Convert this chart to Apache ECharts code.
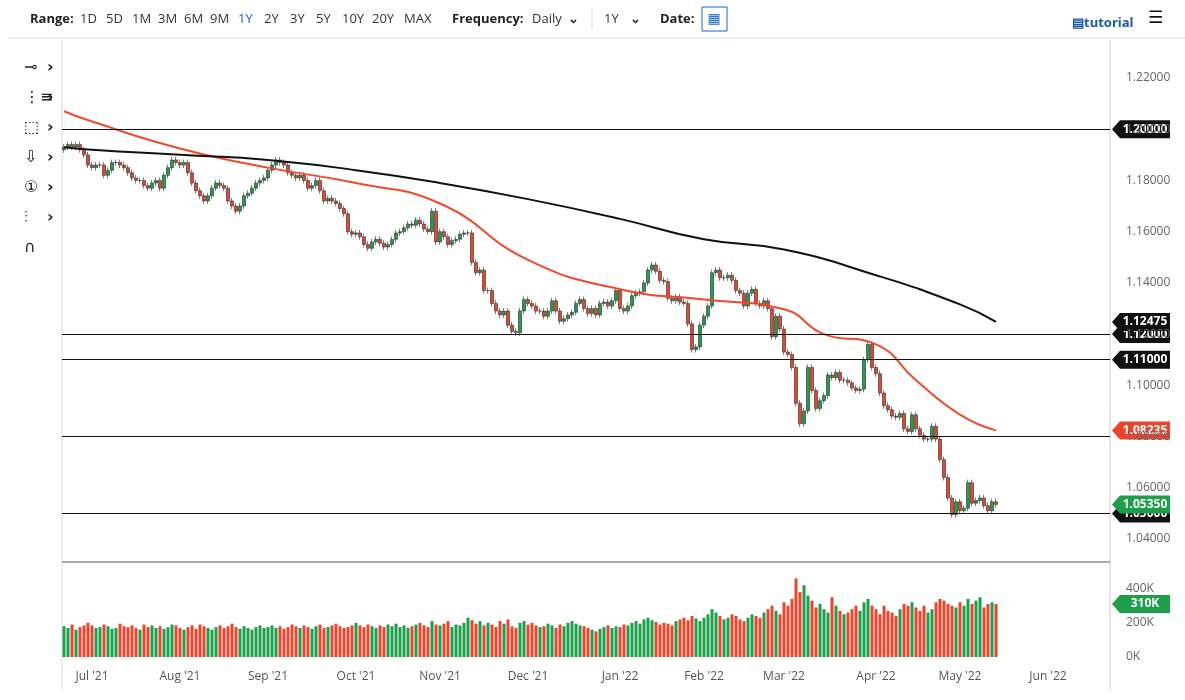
<!DOCTYPE html>
<html>
<head>
<meta charset="utf-8">
<script src="https://cdn.jsdelivr.net/npm/echarts@6/dist/echarts.min.js"></script>
<style>
  html, body { margin: 0; padding: 0; background: #fff; }
  #chart { width: 1185px; height: 700px; }
</style>
</head>
<body>
<div id="chart"></div>
<script>
// daily closes, 22 Jun 2021 -> 13 May 2022
var closes = [
  1.1930,1.1940,1.1930,1.1940,1.1920,1.1900,1.1860,
  1.1850,1.1860,1.1860,1.1820,1.1840,1.1870,1.1870,1.1860,1.1850,1.1830,1.1810,1.1800,1.1800,1.1780,1.1770,1.1790,1.1800,1.1770,1.1820,1.1850,1.1880,1.1870,
  1.1860,1.1870,1.1830,1.1790,1.1760,1.1740,1.1720,1.1740,1.1770,1.1790,1.1780,1.1770,1.1720,1.1700,1.1680,1.1700,1.1740,1.1750,1.1770,1.1790,1.1800,1.1810,
  1.1840,1.1860,1.1880,1.1870,1.1860,1.1830,1.1820,1.1810,1.1820,1.1800,1.1770,1.1780,1.1800,1.1760,1.1720,1.1730,1.1720,1.1710,1.1690,1.1670,1.1600,1.1590,
  1.1595,1.1580,1.1550,1.1535,1.1560,1.1570,1.1555,1.1540,1.1550,1.1570,1.1595,1.1600,1.1615,1.1630,1.1625,1.1645,1.1630,1.1610,1.1600,1.1680,1.1560,
  1.1600,1.1580,1.1550,1.1565,1.1570,1.1590,1.1595,1.1595,1.1480,1.1440,1.1450,1.1370,1.1370,1.1320,1.1290,1.1275,1.1290,1.1235,1.1210,1.1205,1.1290,1.1335,
  1.1320,1.1310,1.1290,1.1290,1.1270,1.1290,1.1330,1.1290,1.1250,1.1260,1.1275,1.1285,1.1320,1.1335,1.1300,1.1280,1.1300,1.1275,1.1320,1.1325,1.1310,1.1330,1.1370,
  1.1300,1.1290,1.1310,1.1350,1.1360,1.1365,1.1400,1.1450,1.1470,1.1445,1.1410,1.1405,1.1340,1.1330,1.1345,1.1325,1.1320,1.1240,1.1140,1.1150,1.1235,
  1.1270,1.1310,1.1440,1.1450,1.1420,1.1420,1.1430,1.1410,1.1370,1.1360,1.1310,1.1360,1.1375,1.1320,1.1310,1.1330,1.1300,1.1190,1.1270,1.1220,
  1.1130,1.1120,1.1070,1.0930,1.0850,1.0900,1.1070,1.0980,1.0910,1.0940,1.0960,1.1040,1.1030,1.1050,1.1020,1.1020,1.1010,1.0990,1.0980,1.0985,1.1100,1.1160,1.1070,
  1.1045,1.0970,1.0920,1.0905,1.0880,1.0875,1.0890,1.0830,1.0820,1.0885,1.0830,1.0805,1.0790,1.0790,1.0840,1.0790,1.0710,1.0640,1.0560,1.0495,1.0545,
  1.0510,1.0520,1.0620,1.0540,1.0550,1.0560,1.0530,1.0510,1.0545,1.0535
];
// volume in thousands
var volumes = [
  180,170,190,160,175,185,200,
  185,170,175,190,180,165,170,195,180,175,185,170,160,190,175,185,170,180,165,175,190,185,
  170,160,175,185,165,190,180,170,160,175,185,170,180,195,175,165,180,170,160,175,185,170,
  175,185,170,180,165,175,190,180,170,185,175,165,180,190,170,175,185,195,180,170,175,185,
  200,185,175,190,180,170,185,175,190,180,195,175,185,170,180,190,200,185,175,210,190,
  185,195,210,175,190,185,200,230,215,195,210,185,200,190,175,210,195,220,180,170,200,210,
  190,200,185,175,180,195,185,170,190,180,200,210,195,185,180,170,160,150,165,175,185,170,180,
  175,190,185,200,210,195,220,230,215,205,190,200,195,185,210,220,230,215,240,225,210,
  230,250,280,260,240,220,230,250,240,220,210,230,250,240,230,260,280,300,270,250,
  320,300,340,460,380,420,360,330,290,310,280,260,350,300,270,250,260,280,300,270,320,340,300,
  280,250,300,270,260,240,280,310,300,320,290,270,300,260,280,320,340,330,310,300,290,
  320,300,340,310,330,350,290,310,320,310
];
// moving averages read at month points
var ma50 = [
  ['2021-06-22',1.2070],['2021-07-01',1.2030],['2021-08-02',1.1925],['2021-09-01',1.1850],
  ['2021-10-01',1.1790],['2021-11-01',1.1710],['2021-12-01',1.1490],['2022-01-03',1.1375],
  ['2022-02-01',1.1335],['2022-03-01',1.1297],['2022-03-15',1.1200],['2022-04-01',1.1160],
  ['2022-04-15',1.1020],['2022-05-02',1.0886],['2022-05-13',1.0824]
];
var ma200 = [
  ['2021-06-22',1.1930],['2021-07-01',1.1920],['2021-08-02',1.1900],['2021-09-01',1.1880],
  ['2021-10-01',1.1840],['2021-11-01',1.1790],['2021-12-01',1.1727],['2022-01-03',1.1650],
  ['2022-02-01',1.1570],['2022-03-01',1.1530],['2022-04-01',1.1430],['2022-05-02',1.1316],
  ['2022-05-13',1.1248]
];
var levels = [1.20, 1.12, 1.11, 1.08, 1.05];

var GREEN = '#1e9e4a', RED = '#e8452c';
var N_SLOTS = 262;

// trading days (plus empty future slots)
var dates = [];
var d = new Date(Date.UTC(2021, 5, 22));
while (dates.length < N_SLOTS) {
  var wd = d.getUTCDay();
  if (wd !== 0 && wd !== 6) dates.push(d.toISOString().slice(0, 10));
  d.setUTCDate(d.getUTCDate() + 1);
}

var candles = [], vols = [];
for (var i = 0; i < closes.length; i++) {
  var o = i === 0 ? 1.1920 : closes[i - 1];
  var c = closes[i];
  candles.push([o, c, Math.min(o, c) - 0.0012, Math.max(o, c) + 0.0012]);
  vols.push({ value: volumes[i] * 1000, itemStyle: { color: c >= o ? GREEN : RED } });
}

function sparse(pts) {
  var arr = dates.map(function () { return null; });
  pts.forEach(function (p) { var k = dates.indexOf(p[0]); if (k >= 0) arr[k] = p[1]; });
  return arr;
}

var MONTHS = ['Jan', 'Feb', 'Mar', 'Apr', 'May', 'Jun', 'Jul', 'Aug', 'Sep', 'Oct', 'Nov', 'Dec'];
function firstOfMonth(idx) {
  return idx > 0 && dates[idx].slice(5, 7) !== dates[idx - 1].slice(5, 7);
}

var chart = echarts.init(document.getElementById('chart'));
var option = {
  animation: false,
  backgroundColor: '#fff',
  textStyle: { fontFamily: 'Open Sans' },
  grid: [
    { left: 62, right: 75, top: 78, height: 461 },
    { left: 62, right: 75, top: 575, height: 82 }
  ],
  xAxis: [
    { type: 'category', gridIndex: 0, data: dates, axisLine: { show: false },
      axisTick: { show: false }, axisLabel: { show: false }, splitLine: { show: false } },
    { type: 'category', gridIndex: 1, data: dates, axisLine: { show: false },
      axisTick: { show: false }, splitLine: { show: false },
      axisLabel: { color: '#555', fontSize: 12, margin: 14,
        interval: function (idx) { return firstOfMonth(idx); },
        formatter: function (v) { return MONTHS[+v.slice(5, 7) - 1] + " '" + v.slice(2, 4); } } }
  ],
  yAxis: [
    { type: 'value', gridIndex: 0, position: 'right', min: 1.04, max: 1.22, interval: 0.02,
      axisLine: { show: false }, axisTick: { show: false }, splitLine: { show: false },
      axisLabel: { color: '#666', fontSize: 12, margin: 16, formatter: function (v) { return v.toFixed(5); } } },
    { type: 'value', gridIndex: 1, position: 'right', min: 0, max: 480000, interval: 200000,
      axisLine: { show: false }, axisTick: { show: false }, splitLine: { show: false },
      axisLabel: { color: '#666', fontSize: 12, margin: 16, showMaxLabel: false,
        formatter: function (v) { return v / 1000 + 'K'; } } }
  ],
  series: [
    { type: 'candlestick', xAxisIndex: 0, yAxisIndex: 0, data: candles, barWidth: 3,
      itemStyle: { color: GREEN, color0: RED, borderColor: '#2b2b2b', borderColor0: '#2b2b2b', borderWidth: 0.6 },
      markLine: { symbol: 'none', silent: true, label: { show: false },
        lineStyle: { color: '#111', width: 1, type: 'solid' },
        data: levels.map(function (v) { return { yAxis: v }; }) } },
    { type: 'line', xAxisIndex: 0, yAxisIndex: 0, data: sparse(ma50), connectNulls: true, smooth: true,
      showSymbol: false, lineStyle: { color: '#f2492a', width: 2 } },
    { type: 'line', xAxisIndex: 0, yAxisIndex: 0, data: sparse(ma200), connectNulls: true, smooth: true,
      showSymbol: false, lineStyle: { color: '#111', width: 2 } },
    { type: 'bar', xAxisIndex: 1, yAxisIndex: 1, data: vols, barWidth: 3 }
  ]
};
chart.setOption(option);

// right side value tags
var tags = [
  [1.20, '1.20000', '#111', 0], [1.12, '1.12000', '#111', 0], [1.12475, '1.12475', '#111', 0],
  [1.11, '1.11000', '#111', 0], [1.08235, '1.08235', RED, 0], [1.05, '1.05000', '#111', 0],
  [1.0535, '1.05350', GREEN, 0], [310000, '310K', GREEN, 1]
];
var g = [];
tags.forEach(function (t) {
  var y = chart.convertToPixel({ yAxisIndex: t[3] }, t[0]);
  g.push({ type: 'polygon', shape: { points: [[1112, y], [1120, y - 9], [1170, y - 9], [1170, y + 9], [1120, y + 9]] },
    style: { fill: t[2] } });
  g.push({ type: 'text', x: 1145, y: y, style: { text: t[1], fill: '#fff', font: 'bold 12px Open Sans',
    align: 'center', verticalAlign: 'middle' } });
});
// frame lines
g.push({ type: 'line', shape: { x1: 1110, y1: 40, x2: 1110, y2: 690 }, style: { stroke: '#ccc' } });
g.push({ type: 'line', shape: { x1: 62, y1: 40, x2: 62, y2: 690 }, style: { stroke: '#ddd' } });
g.push({ type: 'line', shape: { x1: 62, y1: 562, x2: 1110, y2: 562 }, style: { stroke: '#aaa', lineWidth: 2 } });
g.push({ type: 'line', shape: { x1: 8, y1: 38, x2: 1185, y2: 38 }, style: { stroke: '#ddd' } });
// toolbar
var tb = [['Range:', 30, true, '#222'], ['1D', 80], ['5D', 106], ['1M', 132], ['3M', 158], ['6M', 184], ['9M', 210],
  ['1Y', 238, false, '#1a66c9'], ['2Y', 264], ['3Y', 290], ['5Y', 316], ['10Y', 342], ['20Y', 372], ['MAX', 404],
  ['Frequency:', 452, true, '#222'], ['Daily', 532], ['⌄', 568, true], ['1Y', 604], ['⌄', 630, true], ['Date:', 660, true, '#222']];
tb.forEach(function (t) {
  g.push({ type: 'text', x: t[1], y: 19, style: { text: t[0], fill: t[3] || '#333', verticalAlign: 'middle',
    font: (t[2] ? 'bold ' : '') + '13px Open Sans' } });
});
g.push({ type: 'line', shape: { x1: 592, y1: 8, x2: 592, y2: 30 }, style: { stroke: '#ddd' } });
g.push({ type: 'rect', shape: { x: 702, y: 7, width: 25, height: 24 }, style: { fill: '#fff', stroke: '#1a66c9' } });
g.push({ type: 'text', x: 714, y: 19, style: { text: '▦', fill: '#1a66c9', font: '14px DejaVu Sans', align: 'center', verticalAlign: 'middle' } });
g.push({ type: 'text', x: 1072, y: 23, style: { text: '▤tutorial', fill: '#1a5aa8', font: 'bold 13px Open Sans', verticalAlign: 'middle' } });
g.push({ type: 'text', x: 1148, y: 19, style: { text: '☰', fill: '#111', font: 'bold 17px DejaVu Sans', verticalAlign: 'middle' } });
// left drawing tools
var icons = ['⊸', '⋮≡', '⬚', '⇩', '①', '⫶', '∩'];
icons.forEach(function (s, k) {
  var y = 68 + k * 30;
  g.push({ type: 'text', x: 24, y: y, style: { text: s, fill: '#222', font: '16px DejaVu Sans', verticalAlign: 'middle' } });
  if (k < 6) g.push({ type: 'text', x: 47, y: y, style: { text: '›', fill: '#222', font: 'bold 16px DejaVu Sans', verticalAlign: 'middle' } });
});
chart.setOption({ graphic: g });
</script>
</body>
</html>
